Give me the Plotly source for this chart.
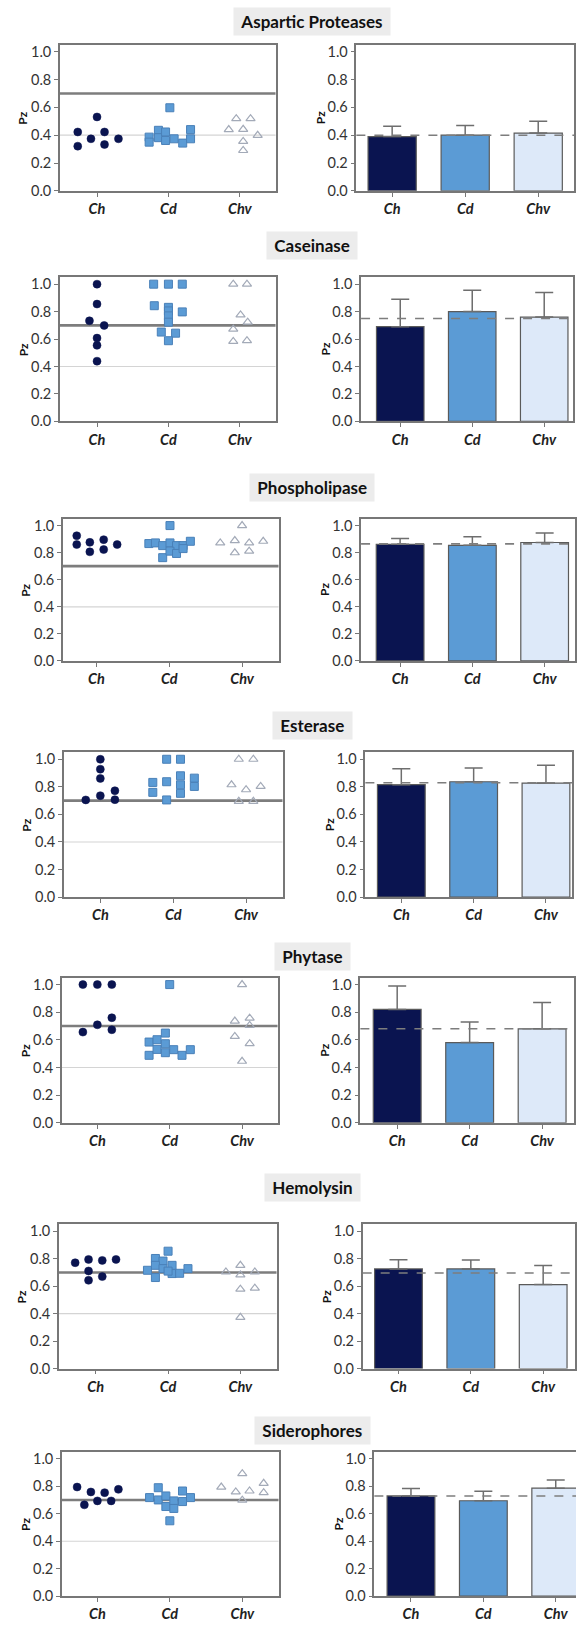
import plotly.graph_objects as go

W, H = 577, 1626

# ---------------- data ----------------
panel_names = ["Aspartic Proteases", "Caseinase", "Phospholipase", "Esterase",
               "Phytase", "Hemolysin", "Siderophores"]
groups = ["Ch", "Cd", "Chv"]

ch_points = [
    [0.423, 0.321, 0.374, 0.531, 0.423, 0.333, 0.374],
    [1.0, 0.855, 0.733, 0.699, 0.607, 0.554, 0.439],
    [0.925, 0.86, 0.876, 0.806, 0.896, 0.823, 0.86],
    [0.705, 1.0, 0.928, 0.861, 0.736, 0.772, 0.707],
    [1.0, 1.0, 1.0, 0.76, 0.709, 0.656, 0.673],
    [0.771, 0.795, 0.711, 0.643, 0.788, 0.67, 0.795],
    [0.795, 0.665, 0.759, 0.694, 0.754, 0.694, 0.778],
]
cd_points = [
    [0.597, 0.386, 0.350, 0.435, 0.382, 0.423, 0.362, 0.374, 0.343, 0.440, 0.374],
    [1.0, 1.0, 1.0, 0.843, 0.831, 0.805, 0.798, 0.769, 0.723, 0.651, 0.643, 0.588],
    [1.0, 0.867, 0.872, 0.852, 0.872, 0.852, 0.852, 0.884, 0.763, 0.811, 0.794, 0.83],
    [1.0, 1.0, 0.832, 0.76, 0.837, 0.705, 0.88, 0.815, 0.753, 0.863, 0.803],
    [1.0, 0.649, 0.584, 0.601, 0.572, 0.488, 0.531, 0.507, 0.529, 0.488, 0.529],
    [0.855, 0.802, 0.783, 0.752, 0.752, 0.716, 0.663, 0.728, 0.692, 0.694, 0.728, 0.71],
    [0.79, 0.718, 0.701, 0.73, 0.653, 0.694, 0.639, 0.766, 0.689, 0.718, 0.549],
]
chv_points = [
    [0.519, 0.519, 0.44, 0.442, 0.399, 0.355, 0.29],
    [1.0, 1.0, 0.776, 0.723, 0.672, 0.583, 0.588],
    [1.0, 0.872, 0.889, 0.872, 0.884, 0.799, 0.811],
    [1.0, 1.0, 0.815, 0.779, 0.803, 0.695, 0.695],
    [1.0, 0.736, 0.757, 0.704, 0.625, 0.572, 0.445],
    [0.704, 0.752, 0.682, 0.704, 0.578, 0.586, 0.373],
    [0.892, 0.795, 0.759, 0.766, 0.822, 0.754, 0.699],
]

ch_mean = [0.39, 0.69, 0.862, 0.816, 0.82, 0.726, 0.73]
ch_sd = [0.075, 0.20, 0.042, 0.115, 0.17, 0.067, 0.055]
cd_mean = [0.40, 0.80, 0.854, 0.837, 0.58, 0.726, 0.695]
cd_sd = [0.07, 0.155, 0.063, 0.10, 0.15, 0.064, 0.07]
chv_mean = [0.415, 0.76, 0.875, 0.827, 0.68, 0.612, 0.787]
chv_sd = [0.085, 0.18, 0.071, 0.13, 0.19, 0.139, 0.06]
overall_mean = [0.40, 0.75, 0.865, 0.83, 0.68, 0.696, 0.73]

threshold_strong = 0.70
threshold_weak = 0.40
y_ticks = [0.0, 0.2, 0.4, 0.6, 0.8, 1.0]

# ---------------- layout (horizontal swarm offsets, in category units) ----------------
ch_off = [
    [-0.27, -0.27, -0.085, 0.0, 0.105, 0.105, 0.30],
    [0, 0, -0.106, 0.10, 0, 0, 0],
    [-0.27, -0.27, -0.09, -0.09, 0.10, 0.10, 0.285],
    [-0.20, 0, 0, 0, 0, 0.20, 0.20],
    [-0.20, 0, 0.20, 0.20, 0, -0.20, 0.20],
    [-0.285, -0.10, -0.10, -0.10, 0.09, 0.09, 0.28],
    [-0.28, -0.18, -0.09, 0, 0.10, 0.19, 0.29],
]
cd_off = [
    [0.02, -0.27, -0.27, -0.14, -0.14, -0.04, -0.04, 0.08, 0.2, 0.31, 0.31],
    [-0.207, 0, 0.194, -0.198, 0, 0, 0.194, 0, 0, -0.10, 0.10, 0],
    [0.01, -0.28, -0.19, -0.09, 0.01, 0.10, 0.19, 0.29, -0.09, 0.01, 0.10, 0.19],
    [-0.09, 0.10, -0.28, -0.28, -0.09, -0.09, 0.10, 0.10, 0.10, 0.29, 0.29],
    [0, -0.06, -0.285, -0.175, -0.06, -0.285, -0.175, -0.06, 0.055, 0.17, 0.285],
    [0, -0.175, -0.07, -0.175, 0.055, -0.285, -0.175, -0.07, 0.055, 0.16, 0.275, 0],
    [-0.16, -0.28, -0.16, -0.055, -0.055, 0.055, 0.055, 0.175, 0.175, 0.285, 0],
]
chv_off = [
    [-0.05, 0.15, -0.155, 0.047, 0.25, 0.047, 0.047],
    [-0.092, 0.10, 0.01, 0.11, -0.092, -0.092, 0.10],
    [0, -0.30, -0.10, 0.097, 0.29, -0.10, 0.097],
    [-0.10, 0.10, -0.20, 0, 0.20, -0.10, 0.10],
    [0, -0.10, 0.105, 0.105, -0.10, 0.105, 0],
    [-0.20, 0, 0, 0.20, 0, 0.20, 0],
    [0, -0.29, -0.09, 0.10, 0.295, 0.295, 0],
]

# pixel boxes: (x_left, x_right, y_top, y_zero)
left_box = [(60, 276, 43, 190), (60, 276, 277, 422), (63, 279, 520, 663),
            (64, 283, 755, 900.7), (62, 278, 981.7, 1127.7), (59, 277, 1230, 1375),
            (62, 279, 1459, 1604)]
left_xr = [(-0.52, 2.5), (-0.52, 2.5), (-0.46, 2.5), (-0.5, 2.5), (-0.49, 2.49),
           (-0.51, 2.5), (-0.49, 2.5)]
right_box = [(357, 575, 43, 190), (361.7, 574, 277, 422), (361.7, 576, 520, 663),
             (366, 573, 755, 900.7), (361, 575, 981.7, 1127.7), (363.3, 576, 1230, 1375),
             (375, 577, 1459, 1604)]
right_xr = [(-0.49, 2.49), (-0.544, 2.40), (-0.54, 2.42), (-0.497, 2.36), (-0.508, 2.44),
            (-0.495, 2.44), (-0.506, 2.28)]
right_frame = [True, True, True, True, True, True, False]
title_y = [20, 245, 489, 728, 960, 1193, 1437]
title_x = 313
YMAX = 1.05

C_CH = "#0a1450"
C_CD = "#5b9bd5"
C_CHV = "#dde9f9"
AX = "#777777"
FONT = "Lato, 'Open Sans', sans-serif"

fig = go.Figure()
layout = dict(width=W, height=H, margin=dict(l=0, r=0, t=0, b=0),
              paper_bgcolor="white", plot_bgcolor="white", showlegend=False,
              shapes=[], annotations=[])


def ax_id(n):
    return "" if n == 1 else str(n)


def dom_x(a, b):
    return [a / W, min(b / W, 1.0)]


def dom_y(top, zero):
    return [1 - zero / H, 1 - top / H]


def axis_common(xd, yd, xr, mirror_y, anchor_x, anchor_y):
    xa = dict(domain=xd, range=list(xr), anchor=anchor_y, tickvals=[0, 1, 2], ticktext=groups,
              showline=True, linecolor=AX, linewidth=1.5, mirror=True, ticks="outside",
              ticklen=4, tickcolor=AX, showgrid=False, zeroline=False,
              tickfont=dict(family=FONT, size=14.5, color="#222", weight="bold", style="italic"))
    ya = dict(domain=yd, range=[0, YMAX], anchor=anchor_x, tickvals=y_ticks,
              ticktext=["%.1f" % v for v in y_ticks],
              showline=True, linecolor=AX, linewidth=1.5, mirror=mirror_y, ticks="outside",
              ticklen=4, tickcolor=AX, showgrid=False, zeroline=False,
              tickfont=dict(family=FONT, size=14.5, color="#333"))
    return xa, ya


def pz_label(x_px, yt, y0):
    return dict(text="<b>Pz</b>", x=x_px / W, y=1 - (yt + y0) / 2 / H, xref="paper", yref="paper",
                xanchor="center", yanchor="middle", showarrow=False, textangle=-90,
                font=dict(family=FONT, size=12, color="#111"))


for i in range(len(panel_names)):
    nL = 2 * i + 1
    nR = 2 * i + 2
    # ---- left: scatter ----
    xl, xr_, yt, y0 = left_box[i]
    xs = "x" + ax_id(nL)
    ys = "y" + ax_id(nL)
    xa, ya = axis_common(dom_x(xl, xr_), dom_y(yt, y0), left_xr[i], True, xs, ys)
    layout["xaxis" + ax_id(nL)] = xa
    layout["yaxis" + ax_id(nL)] = ya
    for thr, col, wd in [(threshold_weak, "#d4d4d4", 1.2), (threshold_strong, "#7d7d7d", 2.6)]:
        layout["shapes"].append(dict(type="line", xref=xs + " domain", yref=ys, x0=0, x1=1,
                                     y0=thr, y1=thr, line=dict(color=col, width=wd), layer="below"))
    fig.add_trace(go.Scatter(x=[0 + o for o in ch_off[i]], y=ch_points[i], mode="markers",
                             xaxis=xs, yaxis=ys,
                             marker=dict(symbol="circle", size=8, color=C_CH,
                                         line=dict(color=C_CH, width=0.5))))
    fig.add_trace(go.Scatter(x=[1 + o for o in cd_off[i]], y=cd_points[i], mode="markers",
                             xaxis=xs, yaxis=ys,
                             marker=dict(symbol="square", size=8, color=C_CD,
                                         line=dict(color="#4a80b8", width=1))))
    fig.add_trace(go.Scatter(x=[2 + o for o in chv_off[i]], y=chv_points[i], mode="markers",
                             xaxis=xs, yaxis=ys,
                             marker=dict(symbol="triangle-up-open", size=8, color="#a3aab8",
                                         line=dict(color="#a3aab8", width=1.2))))
    layout["annotations"].append(pz_label(xl - 37, yt, y0))
    # ---- right: bars ----
    xl, xr_, yt, y0 = right_box[i]
    xs = "x" + ax_id(nR)
    ys = "y" + ax_id(nR)
    xa, ya = axis_common(dom_x(xl, xr_), dom_y(yt, y0), right_xr[i], right_frame[i], xs, ys)
    layout["xaxis" + ax_id(nR)] = xa
    layout["yaxis" + ax_id(nR)] = ya
    fig.add_trace(go.Bar(x=[0, 1, 2], y=[ch_mean[i], cd_mean[i], chv_mean[i]], width=0.66,
                         xaxis=xs, yaxis=ys,
                         marker=dict(color=[C_CH, C_CD, C_CHV], line=dict(color="#5a5a5a", width=1.2)),
                         error_y=dict(type="data", symmetric=False,
                                      array=[ch_sd[i], cd_sd[i], chv_sd[i]],
                                      arrayminus=[0, 0, 0], color="#6e6e6e", thickness=1.5, width=9)))
    layout["shapes"].append(dict(type="line", xref=xs + " domain", yref=ys, x0=0, x1=1,
                                 y0=overall_mean[i], y1=overall_mean[i],
                                 line=dict(color="#7d7d7d", width=1.6, dash="dash"), layer="above"))
    layout["annotations"].append(pz_label(xl - 36, yt, y0))
    # ---- title ----
    layout["annotations"].append(dict(text="&nbsp;<b>%s</b>&nbsp;" % panel_names[i], x=title_x / W,
                                      y=1 - title_y[i] / H, xref="paper", yref="paper",
                                      xanchor="center", yanchor="middle",
                                      showarrow=False, bgcolor="#ececec", borderpad=3,
                                      font=dict(family=FONT, size=17, color="#111")))

fig.update_layout(**layout)
fig.write_html("out.html", config={"displayModeBar": False},
               post_script="document.body.style.margin='0';document.body.style.overflow='hidden';"
                           "document.documentElement.style.overflow='hidden';")
